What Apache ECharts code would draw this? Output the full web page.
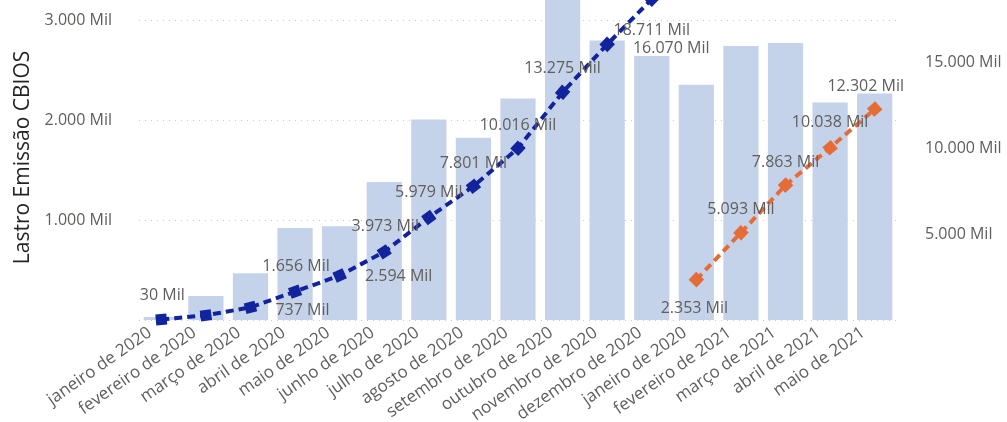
<!DOCTYPE html>
<html>
<head>
<meta charset="utf-8">
<script src="https://cdn.jsdelivr.net/npm/echarts@6/dist/echarts.min.js"></script>
<style>
  html, body { margin: 0; padding: 0; background: #fff; }
  #chart { width: 1007px; height: 422px; }
</style>
</head>
<body>
<div id="chart"></div>
<script>
// meses (eixo x) - o rótulo de jan/2021 aparece como "janeiro de 2020" no original
const months = [
  'janeiro de 2020', 'fevereiro de 2020', 'março de 2020', 'abril de 2020',
  'maio de 2020', 'junho de 2020', 'julho de 2020', 'agosto de 2020',
  'setembro de 2020', 'outubro de 2020', 'novembro de 2020', 'dezembro de 2020',
  'janeiro de 2020 ', 'fevereiro de 2021', 'março de 2021', 'abril de 2021', 'maio de 2021'
]
// lastro emissão mensal (mil CBIOS)
const lastro = [30, 240, 467, 919, 938, 1379, 2006, 1822, 2215, 3259, 2795, 2641,
  2353, 2740, 2770, 2175, 2264]
// acumulado por ano (mil CBIOS)
const acum2020 = [30, 270, 737, 1656, 2594, 3973, 5979, 7801, 10016, 13275, 16070, 18711,
  null, null, null, null, null]
const acum2021 = [null, null, null, null, null, null, null, null, null, null, null, null,
  2353, 5093, 7863, 10038, 12302]
// deslocamento dos rótulos (Power BI arruma do seu jeito)
const offs2020 = [[1, -24], null, [52, 3], [1, -25], [59, 1], [1, -25], [0, -25], [0, -23],
  [0, -23], [0, -24], [64, 4], [0, 31]]
const offs2021 = [[-2, 29], [0, -23], [0, -23], [0, -25], [-9, -23]]

const FONT = '"Open Sans", "Noto Sans", sans-serif'

const fmt = v => String(Math.round(v)).replace(/\B(?=(\d{3})+(?!\d))/g, '.') + ' Mil'

function pointData(arr, offs, start) {
  return arr.map((v, i) => {
    if (v == null) return null
    return { value: v, label: { show: !!offs[i - start] } }
  })
}

function layoutFor(offs, start) {
  return p => {
    const o = offs[p.dataIndex - start]
    return o ? { dx: o[0], dy: o[1] } : {}
  }
}

const chart = echarts.init(document.getElementById('chart'))

const lineLabel = {
  position: 'inside',
  color: '#605E5C',
  fontSize: 16,
  fontFamily: FONT,
  formatter: p => fmt(p.value)
}

const option = {
  backgroundColor: '#fff',
  animation: false,
  grid: { left: 139, right: 110, top: -23, bottom: 102, outerBoundsMode: 'none', containLabel: false },
  xAxis: {
    type: 'category',
    data: months,
    axisLine: { show: false },
    axisTick: { show: false },
    axisLabel: {
      rotate: 35,
      interval: 0,
      margin: 3,
      padding: [0, 14, 0, 0],
      color: '#605E5C',
      fontSize: 17,
      fontFamily: FONT,
      formatter: v => v.trim()
    }
  },
  yAxis: [
    {
      type: 'value',
      min: 0,
      max: 3430,
      interval: 1000,
      name: 'Lastro Emissão CBIOS',
      nameLocation: 'middle',
      nameRotate: 90,
      nameGap: 104,
      nameTextStyle: { color: '#252423', fontSize: 21, fontFamily: FONT, padding: [0, 18, 0, 0] },
      axisLabel: {
        showMinLabel: false,
        showMaxLabel: false,
        margin: 27,
        color: '#605E5C',
        fontSize: 16,
        fontFamily: FONT,
        formatter: v => fmt(v)
      },
      splitLine: { lineStyle: { color: '#C8C8C8', type: [1, 5], width: 1 } },
      axisLine: { show: false },
      axisTick: { show: false }
    },
    {
      type: 'value',
      min: 0,
      max: 20000,
      interval: 5000,
      axisLabel: {
        showMinLabel: false,
        showMaxLabel: false,
        margin: 28,
        color: '#605E5C',
        fontSize: 16,
        fontFamily: FONT,
        formatter: v => fmt(v)
      },
      splitLine: { show: false },
      axisLine: { show: false },
      axisTick: { show: false }
    }
  ],
  series: [
    {
      name: 'Lastro',
      type: 'bar',
      data: lastro,
      yAxisIndex: 0,
      barCategoryGap: '21%',
      itemStyle: { color: '#C5D3EA' },
      z: 1
    },
    {
      name: 'Acumulado 2020',
      type: 'line',
      yAxisIndex: 1,
      data: pointData(acum2020, offs2020, 0),
      connectNulls: false,
      symbol: 'rect',
      symbolSize: 11,
      itemStyle: { color: '#12239E' },
      lineStyle: { color: '#12239E', width: 4, type: [8, 5] },
      label: lineLabel,
      labelLayout: layoutFor(offs2020, 0),
      z: 3
    },
    {
      name: 'Acumulado 2021',
      type: 'line',
      yAxisIndex: 1,
      data: pointData(acum2021, offs2021, 12),
      connectNulls: false,
      symbol: 'rect',
      symbolSize: 11,
      itemStyle: { color: '#E66C37' },
      lineStyle: { color: '#E66C37', width: 4, type: [8, 5] },
      label: lineLabel,
      labelLayout: layoutFor(offs2021, 12),
      z: 3
    }
  ]
}

chart.setOption(option)

// gira os marcadores na direção da linha, como no Power BI
function rotateSymbols(seriesIndex, arr) {
  const px = arr.map((v, i) => v == null ? null : chart.convertToPixel({ seriesIndex }, [i, v]))
  return arr.map((v, i) => {
    if (v == null) return 0
    const a = px[i - 1] || px[i]
    const b = px[i + 1] || px[i]
    if (a === b) return 0
    return -Math.atan2(b[1] - a[1], b[0] - a[0]) * 180 / Math.PI
  })
}
const rot2020 = rotateSymbols(1, acum2020)
const rot2021 = rotateSymbols(2, acum2021)
chart.setOption({
  series: [
    {},
    { symbolRotate: (v, p) => rot2020[p.dataIndex] },
    { symbolRotate: (v, p) => rot2021[p.dataIndex] }
  ]
})
</script>
</body>
</html>
